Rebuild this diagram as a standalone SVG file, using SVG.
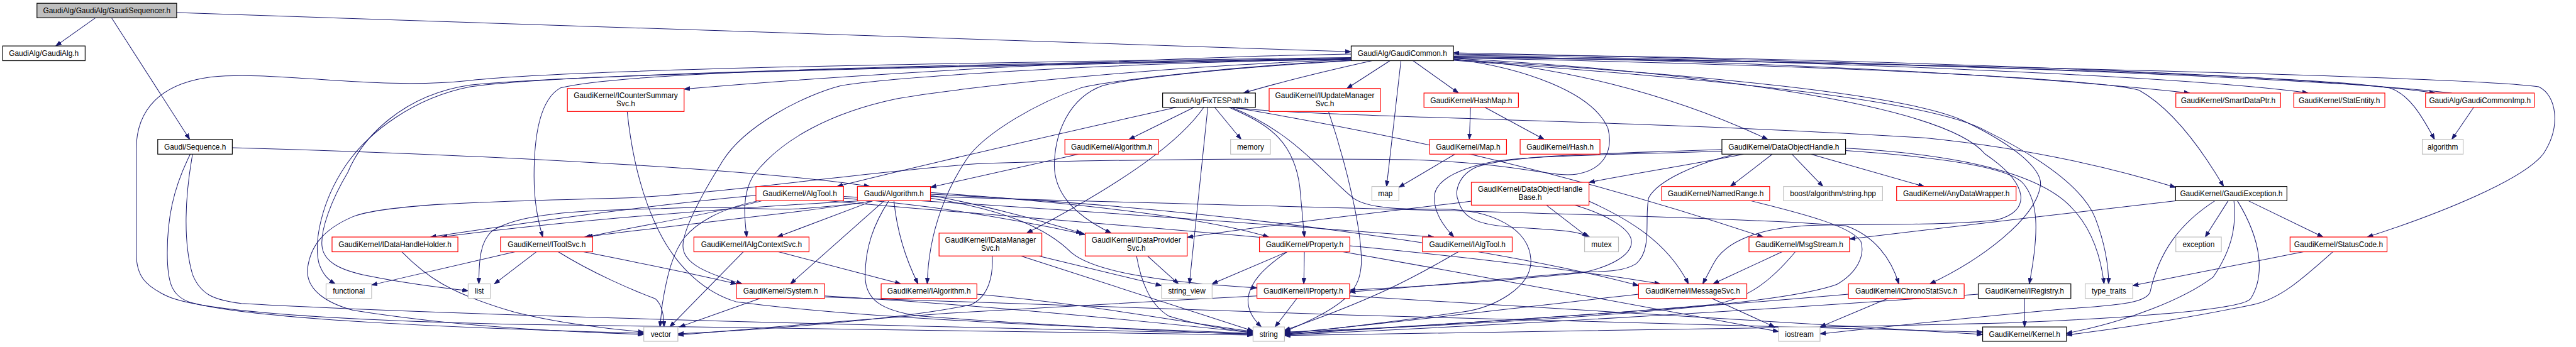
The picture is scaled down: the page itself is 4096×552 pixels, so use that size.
<svg xmlns="http://www.w3.org/2000/svg" width="4096" height="552" viewBox="0 0 4096 552">
<defs>
<style>
.e{fill:none;stroke:#191970;stroke-width:1.1;marker-end:url(#a)}
.n rect{fill:#fff;stroke-width:1.3}
.b rect{stroke:#000}
.r rect{stroke:#ff0000}
.g rect{stroke:#bfbfbf}
.root rect{fill:#bfbfbf;stroke:#000}
text{font-family:"Liberation Sans",Arial,sans-serif;font-size:13px;text-anchor:middle;fill:#000}
</style>
<marker id="a" markerWidth="11" markerHeight="8" refX="10" refY="4" orient="auto" markerUnits="userSpaceOnUse"><path d="M0,0.5 L10,4 L0,7.5 z" fill="#191970" stroke="#191970" stroke-width="1"/></marker>
</defs>
<rect width="4096" height="552" fill="#fff"/>
<g transform="scale(0.91408)">
<g id="edges">
<path class="e" d="M166,31 L97,80"/>
<path class="e" d="M194,31 L330,242.6"/>
<path class="e" d="M307,22 L2350,90"/>
<path class="e" d="M404,257 C800,268 1300,292 1513,324.5"/>
<path class="e" d="M331,268.3 C300,330 291,383 291,440 C291,495 300,515 330,526 C450,560 900,574 1119.9,580"/>
<path class="e" d="M335,268.3 C322,340 318,420 335,478 C348,510 368,522 420,528 C800,550 1600,568 2179.7,581"/>
<path class="e" d="M2350.4,100 C1900,106 1000,118 818,140 C650,158 480,122 367,134 C280,145 237,190 237,260 L237,440 C237,480 252,497 290,515 C360,548 700,562 1000,566 C1500,572 1900,578 2179.7,583"/>
<path class="e" d="M2528.4,102.5 C2650,118 2770,160 2797,223 C2807,262 2790,295 2743,303 C2700,310 2640,283 2450,278 C2200,275 1900,278 1700,285 C1500,300 1250,337 1100,344 C900,350 680,352 614,377 C560,400 540,430 535,467 C532,500 560,525 614,540 C800,570 1000,578 1119.9,582"/>
<path class="e" d="M2350.4,94 C2000,100 1500,128 1190,155"/>
<path class="e" d="M2387,105.6 C2300,125 2230,142 2163,161.9"/>
<path class="e" d="M2418,105.6 L2343,154"/>
<path class="e" d="M2437,105.6 L2412,324.5"/>
<path class="e" d="M2458,105.6 L2537,161.9"/>
<path class="e" d="M2528.4,98 C3000,104 3500,128 3809,161.9"/>
<path class="e" d="M2528.4,96 C3100,103 3800,132 4015,161.9"/>
<path class="e" d="M2528.4,94 C3200,101 4000,128 4236,161.9"/>
<path class="e" d="M4265,161.9 C4000,132 3200,106 2528.4,92"/>
<path class="e" d="M2528.4,99 C3300,107 4050,134 4156,153 C4190,163 4212,200 4235,242.6"/>
<path class="e" d="M4303,186.8 L4265,242.6"/>
<path class="e" d="M2528.4,100 C3300,109 4300,134 4416,151 C4447,165 4456,220 4424,268 C4390,312 4250,370 4118,412.5"/>
<path class="e" d="M2528.4,101 C3200,113 3650,138 3721,157 C3780,190 3830,260 3868,324.5"/>
<path class="e" d="M2528.4,103 C2700,113 2900,160 3075,242.6"/>
<path class="e" d="M2528.4,104 C2950,128 3320,165 3415,210 C3500,250 3556,295 3549,325 C3540,380 3450,450 3357,494"/>
<path class="e" d="M2528.4,101.5 C2950,125 3380,180 3453,268 C3530,320 3535,368 3472,383 C3400,392 3250,390 3160,392 C3060,395 3000,420 2980,460 L2962,494"/>
<path class="e" d="M2528.4,105 C3000,138 3360,175 3455,228 C3560,280 3625,330 3645,380 C3660,420 3668,460 3668,494"/>
<path class="e" d="M2350.4,101 C1800,110 1100,120 975,153 C935,175 929,250 929,306 C929,350 935,380 944,412.5"/>
<path class="e" d="M2350.4,102 C1800,112 1000,125 818,151 C720,170 640,230 600,290 C560,350 545,420 555,459 C562,478 570,486 583,494"/>
<path class="e" d="M2350.4,102.5 C1800,113 1000,128 818,148 C700,165 630,240 605,300 C575,350 558,400 560,427 C562,455 590,470 640,480 C700,492 760,500 814.4,506"/>
<path class="e" d="M2350.4,103 C1900,110 1550,135 1463,149 C1400,165 1290,220 1253,287 C1220,340 1188,400 1188,428 C1188,459 1230,476 1291,494"/>
<path class="e" d="M2350.4,104 C2000,115 1650,155 1559,172 C1450,195 1360,240 1310,306 C1290,340 1295,380 1299,412.5"/>
<path class="e" d="M2350.4,105 C2150,115 1930,140 1880,153 C1800,180 1720,230 1688,268 C1650,320 1615,400 1613,494"/>
<path class="e" d="M2350.4,105.6 C2100,120 1950,140 1918,149 C1860,170 1835,230 1834,287 C1834,330 1860,370 1933,405.7"/>
<path class="e" d="M2046,186.8 C1850,231 1650,276 1456,324.5"/>
<path class="e" d="M2077,186.8 L1964,242.6"/>
<path class="e" d="M2094,186.8 C2050,250 1950,320 1786,405.7"/>
<path class="e" d="M2101,186.8 L2069,494"/>
<path class="e" d="M2113,186.8 L2159,242.6"/>
<path class="e" d="M2140,186.8 C2300,205 2800,207 3350,240 C3550,260 3700,300 3784.5,326"/>
<path class="e" d="M2138,186.8 C2200,214 2250,240 2261,325 L2269,412.5"/>
<path class="e" d="M2142,186.8 C2250,230 2300,300 2353,344 C2380,365 2450,364 2506,364 C2600,364 2660,400 2663,452 C2665,500 2600,535 2544,543 C2400,563 2300,575 2234.4,580"/>
<path class="e" d="M2145,186.8 C2400,230 2700,290 3067,412.5"/>
<path class="e" d="M1876,268.3 L1618.6,326"/>
<path class="e" d="M1497,349.4 C1300,360 1000,382 768,412.5"/>
<path class="e" d="M1519,349.4 C1400,370 1200,388 1017,412.5"/>
<path class="e" d="M1519,349.4 C1483,356 1400,364 1368,364 C1300,364 1250,358 1150,363 C1000,366 900,372 856,402 C836,420 833,450 833,494"/>
<path class="e" d="M1519,349.4 L1352,412.5"/>
<path class="e" d="M1538,349.4 L1375,494"/>
<path class="e" d="M1555,349.4 C1560,400 1575,450 1597,494"/>
<path class="e" d="M1546,349.4 C1520,390 1505,430 1505,480 C1505,520 1530,540 1600,550 C1800,565 2000,575 2179.7,582"/>
<path class="e" d="M1618.6,340 C1700,355 1800,380 1882,406"/>
<path class="e" d="M1618.6,335 C1900,355 2100,380 2207,412.5"/>
<path class="e" d="M1618.6,345 C1750,365 1822,398 1864,440 C1900,470 2000,490 2186.5,501"/>
<path class="e" d="M1618.6,338 C2100,360 2600,430 2850.3,497"/>
<path class="e" d="M1618.6,342 C2200,360 3000,375 3211,393 C3260,410 3290,450 3303,494"/>
<path class="e" d="M1315,340 C1100,360 900,390 749,412.5"/>
<path class="e" d="M1326,349.4 C1250,370 1100,395 1021,412.5"/>
<path class="e" d="M1320,349.4 C1250,363 1210,390 1191,413 C1170,440 1160,480 1152,530 L1148,569"/>
<path class="e" d="M1467.4,345 C1600,355 1750,378 1887.7,408"/>
<path class="e" d="M1467.4,342 C1800,360 2200,390 2494,412.5"/>
<path class="e" d="M1440,349.4 C1900,390 2500,430 2888,494"/>
<path class="e" d="M896,438.2 L646.4,496"/>
<path class="e" d="M933,438.2 L860,494"/>
<path class="e" d="M971,438.2 C1030,475 1100,505 1140,520 C1152,530 1155,550 1155,569"/>
<path class="e" d="M1015,438.2 C1100,455 1200,475 1281,494"/>
<path class="e" d="M699,438.2 C740,480 780,510 894,543 C960,560 1050,572 1119.9,578"/>
<path class="e" d="M1293,438.2 L1165,569"/>
<path class="e" d="M1354,438.2 L1567,494"/>
<path class="e" d="M1322,519.3 L1182,569"/>
<path class="e" d="M1434.5,515 C1700,530 2000,560 2179.7,579"/>
<path class="e" d="M1434.5,517 C2000,540 3000,568 3448.9,578"/>
<path class="e" d="M1699.3,512 C1900,530 2050,560 2179.7,577"/>
<path class="e" d="M1726,445.5 C1728,480 1720,515 1690,530 C1600,550 1400,570 1179.2,581"/>
<path class="e" d="M1776,445.5 L2179.7,576"/>
<path class="e" d="M1807,445.5 L2020.5,497"/>
<path class="e" d="M1996,445.5 L2050,494"/>
<path class="e" d="M1977,445.5 C1985,490 2000,530 2033,550 C2080,565 2130,572 2179.7,579"/>
<path class="e" d="M2239,438.2 L2108.5,494"/>
<path class="e" d="M2239,438.2 C2200,465 2174,490 2171,520 C2170,540 2180,555 2194,569"/>
<path class="e" d="M2269,438.2 L2268,494"/>
<path class="e" d="M2336,438.2 C2600,485 2900,540 3094,577"/>
<path class="e" d="M2256,519.3 L2218,569"/>
<path class="e" d="M2347.7,515 C2800,545 3200,570 3448.9,582"/>
<path class="e" d="M2186.5,515 C2000,525 1800,535 1650,545 C1500,556 1300,572 1179.2,583"/>
<path class="e" d="M2537,438.2 C2480,470 2420,510 2234.4,575"/>
<path class="e" d="M2311,194 C2340,280 2370,400 2368,460 C2365,500 2350,530 2234.4,577"/>
<path class="e" d="M2690,357 L2762,412.5"/>
<path class="e" d="M2559.4,350 C2400,370 2200,392 2065.2,413"/>
<path class="e" d="M2764,350 C2830,380 2900,420 2937,494"/>
<path class="e" d="M2739,357 C2800,375 2838,400 2838,421 C2838,445 2800,465 2750,475 C2600,490 2450,500 2348,505"/>
<path class="e" d="M3033,268.3 C2950,285 2865,298 2764,317.3"/>
<path class="e" d="M3083,268.3 L3010,324.5"/>
<path class="e" d="M3117,268.3 L3171,324.5"/>
<path class="e" d="M3150,268.3 L3347,324.5"/>
<path class="e" d="M2995.3,260 C2800,268 2640,268 2570,290 C2535,305 2530,335 2537,350 C2545,380 2570,392 2640,396 C2710,400 2745,402 2765,412.5"/>
<path class="e" d="M2995.3,263 C2800,270 2640,270 2580,285 C2520,300 2495,320 2495,344 C2495,370 2510,392 2529,412.5"/>
<path class="e" d="M3210.4,262 C3400,275 3500,295 3520,320 C3545,350 3548,400 3530,494"/>
<path class="e" d="M3210.4,258 C3400,268 3550,300 3606,364 C3640,400 3655,450 3660,494"/>
<path class="e" d="M3018,268.3 C2950,285 2884,314 2868,344 C2860,380 2875,435 2846,459 C2820,475 2780,472 2750,474 C2600,486 2450,501 2348,508"/>
<path class="e" d="M3045,349.4 C3150,375 3220,395 3237,420 C3245,445 3230,475 3195,495 C3100,530 2700,560 2234.4,578"/>
<path class="e" d="M3100,438.2 L2980,494"/>
<path class="e" d="M3123,438.2 C3080,490 3040,520 2980,530 C2700,555 2400,570 2234.4,581"/>
<path class="e" d="M2978,519.3 L3087,569"/>
<path class="e" d="M2850.3,512 C2600,540 2400,565 2234.4,580"/>
<path class="e" d="M3284,519.3 L3166,569"/>
<path class="e" d="M3215.4,512 C2900,540 2500,565 2234.4,582"/>
<path class="e" d="M3521.8,519.3 L3521.8,569"/>
<path class="e" d="M3441.2,512 C3000,545 2600,566 2234.4,583"/>
<path class="e" d="M3876,349.4 L3836,412.5"/>
<path class="e" d="M3911,349.4 L4041,412.5"/>
<path class="e" d="M3886,349.4 C3890,390 3885,430 3850,482 C3800,520 3700,560 3594.7,580"/>
<path class="e" d="M3853,349.4 C3790,390 3755,440 3740,509 C3732,525 3702,530 3600,537 C3400,555 3250,572 3166,581"/>
<path class="e" d="M3892,349.4 C3935,420 3940,480 3915,520 C3890,548 3500,562 3453,563 C3000,574 2500,579 2234.4,584"/>
<path class="e" d="M3784.5,349.4 C3600,370 3400,395 3217.3,416"/>
<path class="e" d="M4007,438.2 C3900,460 3800,480 3709.9,497"/>
<path class="e" d="M4058,438.2 C4000,490 3965,520 3920,530 C3800,555 3700,570 3594.7,583"/>
<path class="e" d="M2558,186.8 L2556,242.6"/>
<path class="e" d="M2583,186.8 L2686,242.6"/>
<path class="e" d="M2531,268.3 L2433.4,326"/>
<path class="e" d="M1091,194 C1100,280 1120,350 1146,402 C1180,470 1230,510 1280,525 C1500,555 1900,570 2179.7,580"/>
</g>
<g id="n1" class="n root"><rect x="64.3" y="5.7" width="243" height="25.3"/><text x="185.8" y="22.9">GaudiAlg/GaudiAlg/GaudiSequencer.h</text></g>
<g id="n2" class="n b"><rect x="4.6" y="80" width="143.5" height="25.6"/><text x="76.3" y="97.3">GaudiAlg/GaudiAlg.h</text></g>
<g id="n3" class="n b"><rect x="274.4" y="242.6" width="129.7" height="25.7"/><text x="339.3" y="260">Gaudi/Sequence.h</text></g>
<g id="n4" class="n b"><rect x="2350.4" y="80" width="178" height="25.6"/><text x="2439.4" y="97.3">GaudiAlg/GaudiCommon.h</text></g>
<g id="n5" class="n r"><rect x="987" y="154" width="203" height="40"/><text x="1088.5" y="170.3">GaudiKernel/ICounterSummary</text><text x="1088.5" y="184.8">Svc.h</text></g>
<g id="n6" class="n b"><rect x="2022.4" y="161.9" width="161.5" height="24.9"/><text x="2103.2" y="178.9">GaudiAlg/FixTESPath.h</text></g>
<g id="n7" class="n r"><rect x="2207.7" y="154" width="193.6" height="40"/><text x="2304.5" y="170.3">GaudiKernel/IUpdateManager</text><text x="2304.5" y="184.8">Svc.h</text></g>
<g id="n8" class="n r"><rect x="2477" y="161.9" width="164.3" height="24.9"/><text x="2559.2" y="178.9">GaudiKernel/HashMap.h</text></g>
<g id="n9" class="n r"><rect x="3784.9" y="161.9" width="182.2" height="24.9"/><text x="3876" y="178.9">GaudiKernel/SmartDataPtr.h</text></g>
<g id="n10" class="n r"><rect x="3990" y="161.9" width="158.5" height="24.9"/><text x="4069.3" y="178.9">GaudiKernel/StatEntity.h</text></g>
<g id="n11" class="n r"><rect x="4219.3" y="161.9" width="189.1" height="24.9"/><text x="4313.9" y="178.9">GaudiAlg/GaudiCommonImp.h</text></g>
<g id="n12" class="n g"><rect x="4213.6" y="242.6" width="71.1" height="25.7"/><text x="4249.2" y="260">algorithm</text></g>
<g id="n13" class="n r"><rect x="1852.4" y="242.6" width="162.7" height="25.7"/><text x="1933.8" y="260">GaudiKernel/Algorithm.h</text></g>
<g id="n14" class="n g"><rect x="2140.6" y="242.6" width="69.3" height="25.7"/><text x="2175.3" y="260">memory</text></g>
<g id="n15" class="n r"><rect x="2487" y="242.6" width="133.6" height="25.7"/><text x="2553.8" y="260">GaudiKernel/Map.h</text></g>
<g id="n16" class="n r"><rect x="2644.3" y="242.6" width="138.9" height="25.7"/><text x="2713.8" y="260">GaudiKernel/Hash.h</text></g>
<g id="n17" class="n g"><rect x="2386.4" y="324.5" width="47" height="24.9"/><text x="2409.9" y="341.5">map</text></g>
<g id="n18" class="n b"><rect x="2995.3" y="242.6" width="215.1" height="25.7"/><text x="3102.9" y="260">GaudiKernel/DataObjectHandle.h</text></g>
<g id="n19" class="n r"><rect x="2890.5" y="324.5" width="187.9" height="24.9"/><text x="2984.5" y="341.5">GaudiKernel/NamedRange.h</text></g>
<g id="n20" class="n g"><rect x="3102.5" y="324.5" width="172.2" height="24.9"/><text x="3188.6" y="341.5">boost/algorithm/string.hpp</text></g>
<g id="n21" class="n r"><rect x="3299.2" y="324.5" width="207.8" height="24.9"/><text x="3403.1" y="341.5">GaudiKernel/AnyDataWrapper.h</text></g>
<g id="n22" class="n b"><rect x="3784.5" y="324.5" width="193.7" height="24.9"/><text x="3881.4" y="341.5">GaudiKernel/GaudiException.h</text></g>
<g id="n23" class="n r"><rect x="1315" y="324.5" width="152.4" height="24.9"/><text x="1391.2" y="341.5">GaudiKernel/AlgTool.h</text></g>
<g id="n24" class="n r"><rect x="1491.5" y="324.5" width="127.1" height="24.9"/><text x="1555" y="341.5">Gaudi/Algorithm.h</text></g>
<g id="n25" class="n r"><rect x="2559.4" y="317.3" width="204.7" height="39.7"/><text x="2661.8" y="333.6">GaudiKernel/DataObjectHandle</text><text x="2661.8" y="348.1">Base.h</text></g>
<g id="n26" class="n r"><rect x="577.6" y="412.5" width="218.9" height="25.7"/><text x="687" y="429.9">GaudiKernel/IDataHandleHolder.h</text></g>
<g id="n27" class="n r"><rect x="870.7" y="412.5" width="160.3" height="25.7"/><text x="950.9" y="429.9">GaudiKernel/IToolSvc.h</text></g>
<g id="n28" class="n r"><rect x="1207" y="412.5" width="200.3" height="25.7"/><text x="1307.2" y="429.9">GaudiKernel/IAlgContextSvc.h</text></g>
<g id="n29" class="n r"><rect x="1633.5" y="405.7" width="178.8" height="39.8"/><text x="1722.9" y="422">GaudiKernel/IDataManager</text><text x="1722.9" y="436.5">Svc.h</text></g>
<g id="n30" class="n r"><rect x="1887.7" y="405.7" width="177.5" height="39.8"/><text x="1976.5" y="422">GaudiKernel/IDataProvider</text><text x="1976.5" y="436.5">Svc.h</text></g>
<g id="n31" class="n r"><rect x="2190.8" y="412.5" width="157.2" height="25.7"/><text x="2269.4" y="429.9">GaudiKernel/Property.h</text></g>
<g id="n32" class="n r"><rect x="2474.4" y="412.5" width="156.1" height="25.7"/><text x="2552.5" y="429.9">GaudiKernel/IAlgTool.h</text></g>
<g id="n33" class="n g"><rect x="2756.4" y="412.5" width="59" height="25.7"/><text x="2785.9" y="429.9">mutex</text></g>
<g id="n34" class="n r"><rect x="3042.4" y="412.5" width="174.9" height="25.7"/><text x="3129.9" y="429.9">GaudiKernel/MsgStream.h</text></g>
<g id="n35" class="n g"><rect x="3784.9" y="412.5" width="79.2" height="25.7"/><text x="3824.5" y="429.9">exception</text></g>
<g id="n36" class="n r"><rect x="3983.6" y="412.5" width="168.7" height="25.7"/><text x="4068" y="429.9">GaudiKernel/StatusCode.h</text></g>
<g id="n37" class="n g"><rect x="567.2" y="494" width="79.2" height="25.3"/><text x="606.8" y="511.2">functional</text></g>
<g id="n38" class="n g"><rect x="814.4" y="494" width="38.7" height="25.3"/><text x="833.8" y="511.2">list</text></g>
<g id="n39" class="n r"><rect x="1281" y="494" width="153.5" height="25.3"/><text x="1357.8" y="511.2">GaudiKernel/System.h</text></g>
<g id="n40" class="n r"><rect x="1532.8" y="494" width="166.5" height="25.3"/><text x="1616" y="511.2">GaudiKernel/IAlgorithm.h</text></g>
<g id="n41" class="n g"><rect x="2020.5" y="494" width="88" height="25.3"/><text x="2064.5" y="511.2">string_view</text></g>
<g id="n42" class="n r"><rect x="2186.5" y="494" width="161.2" height="25.3"/><text x="2267.1" y="511.2">GaudiKernel/IProperty.h</text></g>
<g id="n43" class="n r"><rect x="2850.3" y="494" width="188.3" height="25.3"/><text x="2944.5" y="511.2">GaudiKernel/IMessageSvc.h</text></g>
<g id="n44" class="n r"><rect x="3215.4" y="494" width="201.3" height="25.3"/><text x="3316" y="511.2">GaudiKernel/IChronoStatSvc.h</text></g>
<g id="n45" class="n b"><rect x="3441.2" y="494" width="161.1" height="25.3"/><text x="3521.8" y="511.2">GaudiKernel/IRegistry.h</text></g>
<g id="n46" class="n g"><rect x="3627.2" y="494" width="82.7" height="25.3"/><text x="3668.6" y="511.2">type_traits</text></g>
<g id="n47" class="n g"><rect x="1119.9" y="569" width="59.3" height="25"/><text x="1149.6" y="586">vector</text></g>
<g id="n48" class="n g"><rect x="2179.7" y="569" width="54.7" height="25"/><text x="2207" y="586">string</text></g>
<g id="n49" class="n g"><rect x="3094" y="569" width="72" height="25"/><text x="3130" y="586">iostream</text></g>
<g id="n50" class="n b"><rect x="3448.9" y="569" width="145.8" height="25"/><text x="3521.8" y="586">GaudiKernel/Kernel.h</text></g>
</g>
</svg>
